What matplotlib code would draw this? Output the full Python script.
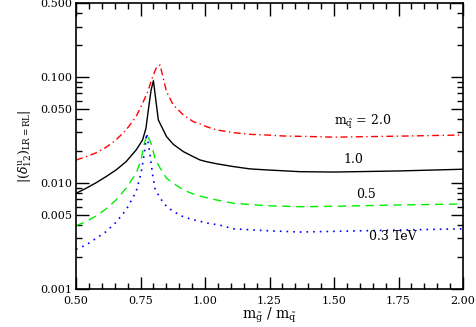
import matplotlib
matplotlib.use("Agg")
import matplotlib.pyplot as plt
from matplotlib.ticker import FixedLocator, NullFormatter, FixedFormatter, MultipleLocator

# --- data ---
x_red = [0.5, 0.539, 0.578, 0.616, 0.655, 0.694, 0.733, 0.758, 0.778, 0.797, 0.813, 0.826, 0.838,
         0.851, 0.877, 0.916, 0.955, 0.981, 1.006, 1.045, 1.110, 1.174, 1.239, 1.303, 1.40, 1.5, 1.75, 2.0]
y_red = [0.0165, 0.0177, 0.0193, 0.0217, 0.0255, 0.0317, 0.0423, 0.0566, 0.0728, 0.1008, 0.1253, 0.1300, 0.0974,
         0.0728, 0.0545, 0.0439, 0.0379, 0.0361, 0.0340, 0.0317, 0.0299, 0.0288, 0.0284, 0.0278, 0.0275, 0.0271, 0.0277, 0.0284]

x_black = [0.5, 0.539, 0.578, 0.616, 0.655, 0.694, 0.733, 0.758, 0.771, 0.782, 0.791, 0.800, 0.819, 0.832,
           0.851, 0.877, 0.916, 0.955, 0.981, 1.006, 1.045, 1.110, 1.174, 1.239, 1.368, 1.5, 1.75, 2.0]
y_black = [0.0080, 0.00892, 0.01007, 0.01148, 0.01328, 0.0159, 0.0205, 0.0255, 0.0328, 0.0525, 0.0755, 0.0924, 0.0394, 0.0340,
           0.0274, 0.0232, 0.0198, 0.0177, 0.0165, 0.0159, 0.0152, 0.0143, 0.0136, 0.0133, 0.0128, 0.0127, 0.0130, 0.0135]

x_green = [0.5, 0.539, 0.578, 0.616, 0.655, 0.694, 0.733, 0.752, 0.765, 0.776, 0.793, 0.806, 0.826,
           0.851, 0.877, 0.916, 0.955, 0.981, 1.006, 1.045, 1.110, 1.239, 1.368, 1.5, 1.75, 2.0]
y_green = [0.00396, 0.00432, 0.00489, 0.00569, 0.00692, 0.00892, 0.01235, 0.0165, 0.0237, 0.0288, 0.0229, 0.0171, 0.0138,
           0.0111, 0.00994, 0.0086, 0.00788, 0.00755, 0.00727, 0.00692, 0.00644, 0.00611, 0.00598, 0.00603, 0.00621, 0.00634]

x_blue = [0.5, 0.539, 0.578, 0.616, 0.655, 0.694, 0.733, 0.752, 0.765, 0.774, 0.787, 0.797, 0.806, 0.826,
          0.851, 0.877, 0.916, 0.955, 1.006, 1.058, 1.110, 1.239, 1.368, 1.5, 1.75, 2.0]
y_blue = [0.00237, 0.0026, 0.00301, 0.00347, 0.00426, 0.00557, 0.00828, 0.0124, 0.0191, 0.0295, 0.0184, 0.0119, 0.0089, 0.0072,
          0.0060, 0.0054, 0.0048, 0.0045, 0.0042, 0.0040, 0.0037, 0.00355, 0.00345, 0.0035, 0.0036, 0.0037]

y_ticks = [0.001, 0.005, 0.010, 0.050, 0.100, 0.500]
y_tick_labels = ["0.001", "0.005", "0.010", "0.050", "0.100", "0.500"]
x_ticks = [0.50, 0.75, 1.00, 1.25, 1.50, 1.75, 2.00]
x_tick_labels = ["0.50", "0.75", "1.00", "1.25", "1.50", "1.75", "2.00"]

plt.rcParams['font.family'] = ['DejaVu Serif']
plt.rcParams['mathtext.fontset'] = 'dejavuserif'

fig = plt.figure(figsize=(4.76, 3.27), dpi=100)
ax = fig.add_axes([0.1597, 0.1162, 0.9727 - 0.1597, 0.9908 - 0.1162])

ax.plot(x_red, y_red, color='#ff0000', lw=1.0, linestyle=(0, (5, 2.5, 1, 2.5)))
ax.plot(x_black, y_black, color='black', lw=1.0, linestyle='-')
ax.plot(x_green, y_green, color='#00ee00', lw=1.0, linestyle=(0, (6, 4)))
ax.plot(x_blue, y_blue, color='#0000ff', lw=1.2, linestyle=(0, (1, 3)))

ax.set_yscale('log')
ax.set_xlim(0.5, 2.0)
ax.set_ylim(0.001, 0.5)

ax.yaxis.set_major_locator(FixedLocator(y_ticks))
ax.yaxis.set_major_formatter(FixedFormatter(y_tick_labels))
minor_y = [m * d for d in (0.001, 0.01, 0.1) for m in (2, 3, 4, 6, 7, 8, 9)]
ax.yaxis.set_minor_locator(FixedLocator([v for v in minor_y if v < 0.5]))
ax.yaxis.set_minor_formatter(NullFormatter())

ax.xaxis.set_major_locator(FixedLocator(x_ticks))
ax.xaxis.set_major_formatter(FixedFormatter(x_tick_labels))
ax.xaxis.set_minor_locator(MultipleLocator(0.05))

ax.tick_params(which='both', direction='in', top=True, right=True, labelsize=8, width=1.0)
ax.tick_params(axis='x', pad=5)
ax.tick_params(axis='y', pad=3)
ax.tick_params(which='major', length=9)
ax.tick_params(which='minor', length=4.5)
for s in ax.spines.values():
    s.set_linewidth(1.2)

ax.set_xlabel(r'$\mathrm{m}_{\tilde{\mathrm{g}}}\ /\ \mathrm{m}_{\tilde{\mathrm{q}}}$', fontsize=10, labelpad=0)
ax.set_ylabel(r'$|(\delta^{\mathrm{u}}_{12})_{\mathrm{LR=RL}}|$', fontsize=9, labelpad=4)

ax.text(1.612, 0.0377, r'$\mathrm{m}_{\tilde{\mathrm{q}}}$ = 2.0', fontsize=9, ha='center', va='center')
ax.text(1.574, 0.0165, '1.0', fontsize=9, ha='center', va='center')
ax.text(1.624, 0.00788, '0.5', fontsize=9, ha='center', va='center')
ax.text(1.729, 0.0031, '0.3 TeV', fontsize=9, ha='center', va='center')

fig.savefig('out.png', dpi=100)
